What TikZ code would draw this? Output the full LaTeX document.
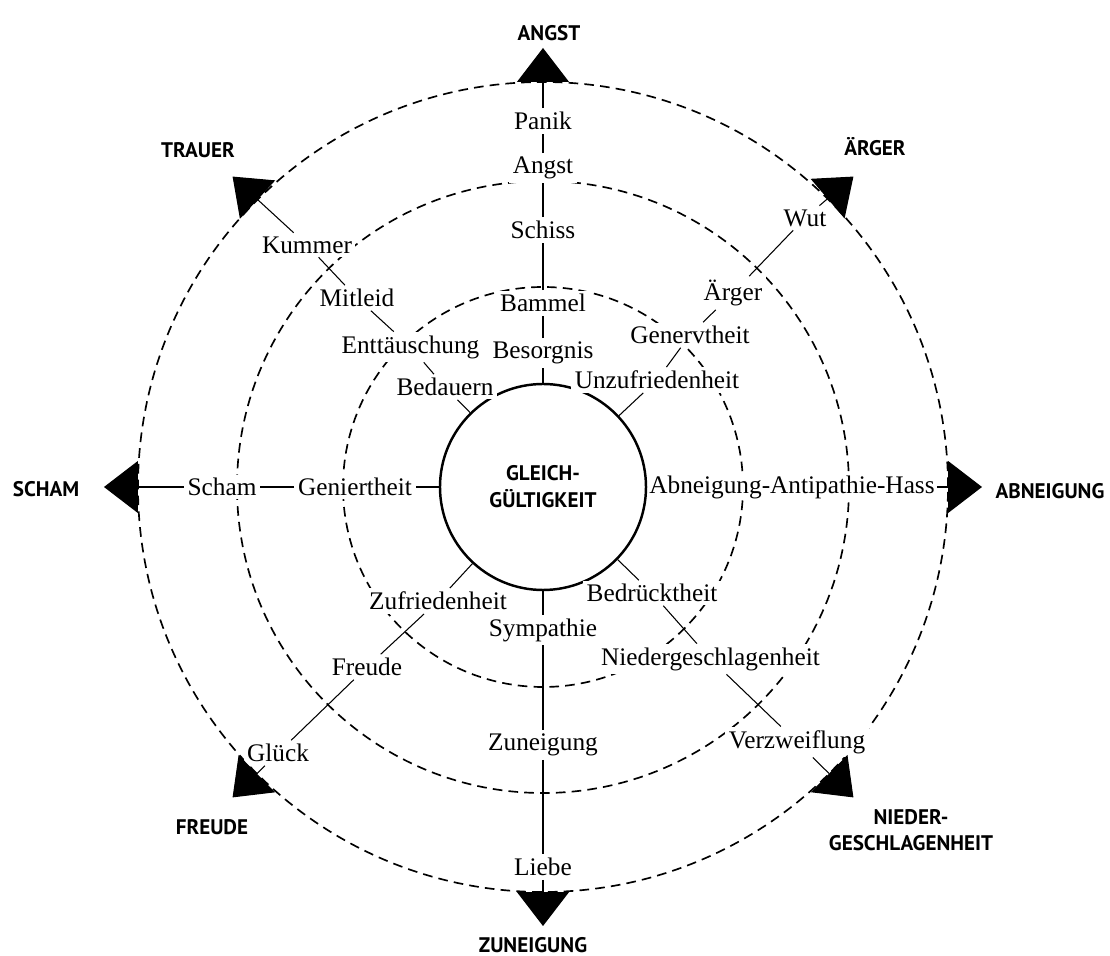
\documentclass[tikz,border=0pt]{standalone}
\usepackage{fontspec}
\setmainfont{Liberation Serif}
\newfontfamily\capsfont{PT Sans}
\usetikzlibrary{arrows.meta,positioning}

\begin{document}
\begin{tikzpicture}[
  font=\fontsize{14.4}{16}\selectfont,
  % Node Styles
  center_node/.style={draw, circle, line width=1.4pt, minimum size=4.12cm, inner sep=0pt, align=center, font=\capsfont\bfseries\fontsize{12}{15.5}\selectfont},
  feeling/.style={fill=white, inner sep=2pt},
  category/.style={align=center, font=\capsfont\bfseries\fontsize{12}{15}\selectfont},
  % Line Styles
  ring_line/.style={line width=0.95pt, dash pattern=on 5.5pt off 3.5pt},
  spoke_line/.style={line width=0.6pt},
  arrow_line/.style={spoke_line, -{Triangle[length=0.68cm, width=1.04cm]}}
]
\useasboundingbox (-10.86,-9.38) rectangle (11.34,9.74);

% ================= RINGS =================
\draw[ring_line] (0,0) circle (4.0);
\draw[ring_line] (0,0) circle (6.12);
\draw[ring_line] (0,0) circle (8.1);

% ================= NODES =================

% --- Center ---
\node[center_node] (hub) at (0,0) {GLEICH-\\GÜLTIGKEIT};

% --- Arrow tips on the outer ring ---
\coordinate (tip_n)  at (90:8.78);
\coordinate (tip_ne) at (45:8.78);
\coordinate (tip_e)  at (0:8.78);
\coordinate (tip_se) at (-45:8.78);
\coordinate (tip_s)  at (-90:8.78);
\coordinate (tip_sw) at (-135:8.78);
\coordinate (tip_w)  at (180:8.78);
\coordinate (tip_nw) at (135:8.78);

% --- Up ---
\node[feeling] (besorgnis) at (0, 2.68) {Besorgnis};
\node[feeling] (bammel)    at (0, 3.68) {Bammel};
\node[feeling] (schiss)    at (0, 5.14) {Schiss};
\node[feeling] (angst)     at (0, 6.38) {Angst};
\node[feeling] (panik)     at (0, 7.32) {Panik};

% --- Up right ---
\node[feeling] (unzufrieden) at (2.28, 2.14) {Unzufriedenheit};
\node[feeling] (genervt)     at (2.94, 3.04) {Genervtheit};
\node[feeling] (aerger)      at (3.80, 3.88) {Ärger};
\node[feeling] (wut)         at (5.24, 5.38) {Wut};

% --- Right ---
\node[feeling, inner sep=1pt] (abneigung) at (4.98, 0) {Abneigung-Antipathie-Hass};

% --- Down right ---
\node[feeling] (bedrueckt)   at (2.18, -2.12) {Bedrücktheit};
\node[feeling] (nieder)      at (3.35, -3.44) {Niedergeschlagenheit};
\node[feeling] (verzweifl)   at (5.08, -5.10) {Verzweiflung};

% --- Down ---
\node[feeling] (sympathie) at (0, -2.86) {Sympathie};
\node[feeling] (zuneigung) at (0, -5.16) {Zuneigung};
\node[feeling] (liebe)     at (0, -7.60) {Liebe};

% --- Down left ---
\node[feeling] (zufrieden) at (-2.10, -2.28) {Zufriedenheit};
\node[feeling] (freude)    at (-3.52, -3.60) {Freude};
\node[feeling] (glueck)    at (-5.30, -5.32) {Glück};

% --- Left ---
\node[feeling] (geniert) at (-3.76, 0) {Geniertheit};
\node[feeling] (scham)   at (-6.42, 0) {Scham};

% --- Up left ---
\node[feeling] (bedauern)  at (-1.96, 2.00) {Bedauern};
\node[feeling] (enttaeusch) at (-2.65, 2.80) {Enttäuschung};
\node[feeling] (mitleid)   at (-3.72, 3.78) {Mitleid};
\node[feeling] (kummer)    at (-4.72, 4.84) {Kummer};

% --- Categories ---
\node[category] (cat_angst)     at (0.12, 9.08)   {ANGST};
\node[category] (cat_aerger)    at (6.64, 6.80)   {ÄRGER};
\node[category] (cat_abneigung) at (10.14, -0.08) {ABNEIGUNG};
\node[category] (cat_nieder)    at (7.36, -6.86)  {NIEDER-\\GESCHLAGENHEIT};
\node[category] (cat_zuneigung) at (-0.20, -9.16) {ZUNEIGUNG};
\node[category] (cat_freude)    at (-6.62, -6.80) {FREUDE};
\node[category] (cat_scham)     at (-9.94, -0.04) {SCHAM};
\node[category] (cat_trauer)    at (-6.90, 6.74)  {TRAUER};

% ================= SPOKES =================

% 1. Angst
\draw[spoke_line] (hub) -- (besorgnis) (besorgnis) -- (bammel) (bammel) -- (schiss) (schiss) -- (angst) (angst) -- (panik);
\draw[arrow_line] (panik) -- (tip_n);

% 2. Aerger
\draw[spoke_line] (hub) -- (unzufrieden) (unzufrieden) -- (genervt) (genervt) -- (aerger) (aerger) -- (wut);
\draw[arrow_line] (wut) -- (tip_ne);

% 3. Abneigung
\draw[spoke_line] (hub) -- (abneigung);
\draw[arrow_line] (abneigung) -- (tip_e);

% 4. Niedergeschlagenheit
\draw[spoke_line] (hub) -- (bedrueckt) (bedrueckt) -- (nieder) (nieder) -- (verzweifl);
\draw[arrow_line] (verzweifl) -- (tip_se);

% 5. Zuneigung
\draw[spoke_line] (hub) -- (sympathie) (sympathie) -- (zuneigung) (zuneigung) -- (liebe);
\draw[arrow_line] (liebe) -- (tip_s);

% 6. Freude
\draw[spoke_line] (hub) -- (zufrieden) (zufrieden) -- (freude) (freude) -- (glueck);
\draw[arrow_line] (glueck) -- (tip_sw);

% 7. Scham
\draw[spoke_line] (hub) -- (geniert) (geniert) -- (scham);
\draw[arrow_line] (scham) -- (tip_w);

% 8. Trauer
\draw[spoke_line] (hub) -- (bedauern) (bedauern) -- (enttaeusch) (enttaeusch) -- (mitleid) (mitleid) -- (kummer);
\draw[arrow_line] (kummer) -- (tip_nw);

\end{tikzpicture}
\end{document}
